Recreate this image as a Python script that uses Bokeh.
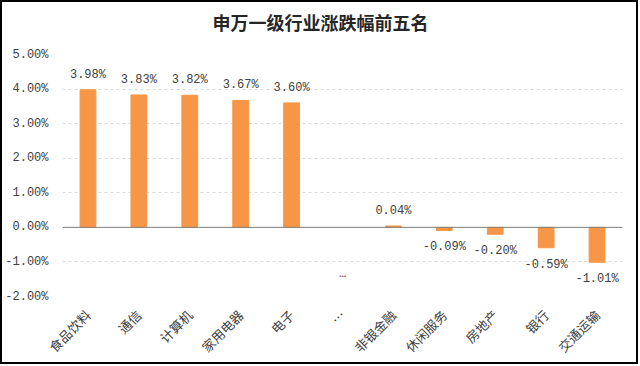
import math
from bokeh.plotting import figure
from bokeh.models import (ColumnDataSource, FixedTicker, PrintfTickFormatter, Span,
                          FactorRange, CategoricalAxis, Title)
from bokeh.core.properties import value
from bokeh.embed import file_html
from bokeh.resources import INLINE

title_text = "申万一级行业涨跌幅前五名"
categories = ["食品饮料", "通信", "计算机", "家用电器", "电子", "…",
              "非银金融", "休闲服务", "房地产", "银行", "交通运输"]
changes = [3.98, 3.83, 3.82, 3.67, 3.60, None, 0.04, -0.09, -0.20, -0.59, -1.01]
gap_category = "…"
gap_label = "…"
gap_label_value = -1.35
y_ticks = [-2, -1, 0, 1, 2, 3, 4, 5]
y_min, y_max = -2, 5

BAR = "#F79646"
TXT = "#404040"
MONO = "Liberation Mono"
CJK = "Noto Sans CJK SC"

bar_cats = [c for c, v in zip(categories, changes) if v is not None]
bar_vals = [v for v in changes if v is not None]
labels = [f"{v:.2f}%" for v in bar_vals]

pos = ColumnDataSource(dict(
    cat=[c for c, v in zip(bar_cats, bar_vals) if v >= 0],
    val=[v for v in bar_vals if v >= 0],
    lab=[l for l, v in zip(labels, bar_vals) if v >= 0]))
neg = ColumnDataSource(dict(
    cat=[c for c, v in zip(bar_cats, bar_vals) if v < 0],
    val=[v for v in bar_vals if v < 0],
    lab=[l for l, v in zip(labels, bar_vals) if v < 0]))

p = figure(x_range=categories, y_range=(y_min, y_max), width=638, height=364,
           output_backend="svg", toolbar_location=None,
           min_border_left=60, min_border_right=18, min_border_top=52, min_border_bottom=70)
p.styles = {"border": "2px solid #000000", "position": "absolute", "left": "0px", "top": "0px"}
p.outline_line_color = None
p.background_fill_color = "white"
p.border_fill_color = "white"

p.title.text = title_text
p.title.align = "left"
p.title.offset = 150
p.title.vertical_align = "bottom"
p.title.text_font = CJK
p.title.text_font_size = "18px"
p.title.text_font_style = "bold"
p.title.text_color = "#262626"
p.title.standoff = 2
# invisible spacer between the title and the plot frame
p.add_layout(Title(text=" ", text_font_size="2px", standoff=15), "above")

p.xgrid.visible = False
p.ygrid.grid_line_color = "#D9D9D9"
p.ygrid.grid_line_dash = "3 3"
p.yaxis.ticker = FixedTicker(ticks=y_ticks)
p.yaxis.formatter = PrintfTickFormatter(format="%.2f%%")
p.yaxis.axis_line_color = None
p.yaxis.major_tick_line_color = None
p.yaxis.minor_tick_line_color = None
p.yaxis.major_label_text_font = MONO
p.yaxis.major_label_text_font_size = "12px"
p.yaxis.major_label_text_color = TXT
p.yaxis.major_label_standoff = 8

# hide the main x axis labels; draw shifted category labels on a second axis
p.xaxis.visible = False
shift = 0.06
p.extra_x_ranges = {"lab": FactorRange(factors=categories, start=-shift, end=len(categories) - shift)}
xax = CategoricalAxis(x_range_name="lab")
xax.axis_line_color = None
xax.major_tick_line_color = None
xax.minor_tick_line_color = None
xax.major_tick_out = 0
xax.major_tick_in = 0
xax.major_label_orientation = math.pi / 4
xax.major_label_text_font = CJK
xax.major_label_text_font_size = "13px"
xax.major_label_text_color = TXT
xax.major_label_standoff = 16
p.add_layout(xax, "below")

p.vbar(x="cat", top="val", bottom=0, width=0.31, source=pos, color=BAR)
p.vbar(x="cat", top="val", bottom=0, width=0.31, source=neg, color=BAR)
p.add_layout(Span(location=0, dimension="width", line_color="#808080", line_width=1))

p.text(x="cat", y="val", text="lab", source=pos, text_align="center", text_baseline="bottom",
       y_offset=-8, text_font=value(MONO), text_font_size="12px", text_color=TXT)
p.text(x="cat", y="val", text="lab", source=neg, text_align="center", text_baseline="top",
       y_offset=10, text_font=value(MONO), text_font_size="12px", text_color=TXT)
p.text(x=[gap_category], y=[gap_label_value], text=[gap_label], text_align="center",
       text_baseline="middle", text_font=value(MONO), text_font_size="12px", text_color=TXT)

open("out.html", "w").write(file_html(p, INLINE))
